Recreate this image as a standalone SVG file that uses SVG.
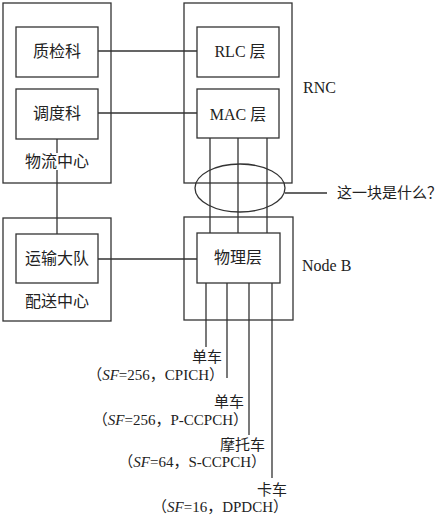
<svg xmlns="http://www.w3.org/2000/svg" width="442" height="515" viewBox="0 0 442 515">
<style>
.b{fill:none;stroke:#333;stroke-width:1.3}
.l{fill:none;stroke:#333;stroke-width:1.3}
text{font-family:"Liberation Serif","Noto Sans CJK SC",serif;font-size:16px;fill:#222}
.s{font-size:15px}
.c{text-anchor:middle}
.e{text-anchor:end}
</style>
<rect width="442" height="515" fill="#fff"/>
<g id="wuliu"><rect class="b" x="3" y="3" width="108" height="180"/><text class="c" x="57" y="167">物流中心</text></g>
<g id="zhijian"><rect class="b" x="16" y="27" width="82" height="50"/><text class="c" x="57" y="57">质检科</text></g>
<g id="diaodu"><rect class="b" x="16" y="89" width="82" height="50"/><text class="c" x="57" y="119">调度科</text></g>
<g id="peisong"><rect class="b" x="3" y="218" width="108" height="103"/><text class="c" x="57" y="307">配送中心</text></g>
<g id="yunshu"><rect class="b" x="16" y="234" width="82" height="49"/><text class="c" x="57" y="264">运输大队</text></g>
<g id="rnc"><rect class="b" x="184" y="3" width="108" height="180"/><text x="303" y="93">RNC</text></g>
<g id="rlc"><rect class="b" x="197" y="27" width="82" height="50"/><text class="c" x="240" y="57">RLC 层</text></g>
<g id="mac"><rect class="b" x="197" y="89" width="82" height="49"/><text class="c" x="238" y="120">MAC 层</text></g>
<g id="nodeb"><rect class="b" x="184" y="217" width="109" height="103"/><text x="302" y="271">Node B</text></g>
<g id="phy"><rect class="b" x="197" y="233" width="83" height="50"/><text class="c" x="238" y="263">物理层</text></g>
<g id="q"><ellipse class="b" cx="240" cy="188" rx="45" ry="24"/><text class="s" x="337" y="198">这一块是什么？</text></g>
<g id="connectors">
<path class="l" d="M98 51H197M98 113H197M57 139V153M57 170V234M98 259H197M210 138V233M238 138V233M267 138V233M285 193H327M206 283V347M227 283V378M249 283V435M272 283V478"/>
</g>
<g id="labels" class="s">
<text class="e s" x="222" y="362">单车</text>
<text class="e s" x="224" y="380">（<tspan font-style="italic">SF</tspan>=256，CPICH）</text>
<text class="e s" x="244" y="407">单车</text>
<text class="e s" x="248" y="425">（<tspan font-style="italic">SF</tspan>=256，P-CCPCH）</text>
<text class="e s" x="265" y="450">摩托车</text>
<text class="e s" x="266" y="467">（<tspan font-style="italic">SF</tspan>=64，S-CCPCH）</text>
<text class="e s" x="287" y="495">卡车</text>
<text class="e s" x="288" y="512">（<tspan font-style="italic">SF</tspan>=16，DPDCH）</text>
</g>
</svg>
